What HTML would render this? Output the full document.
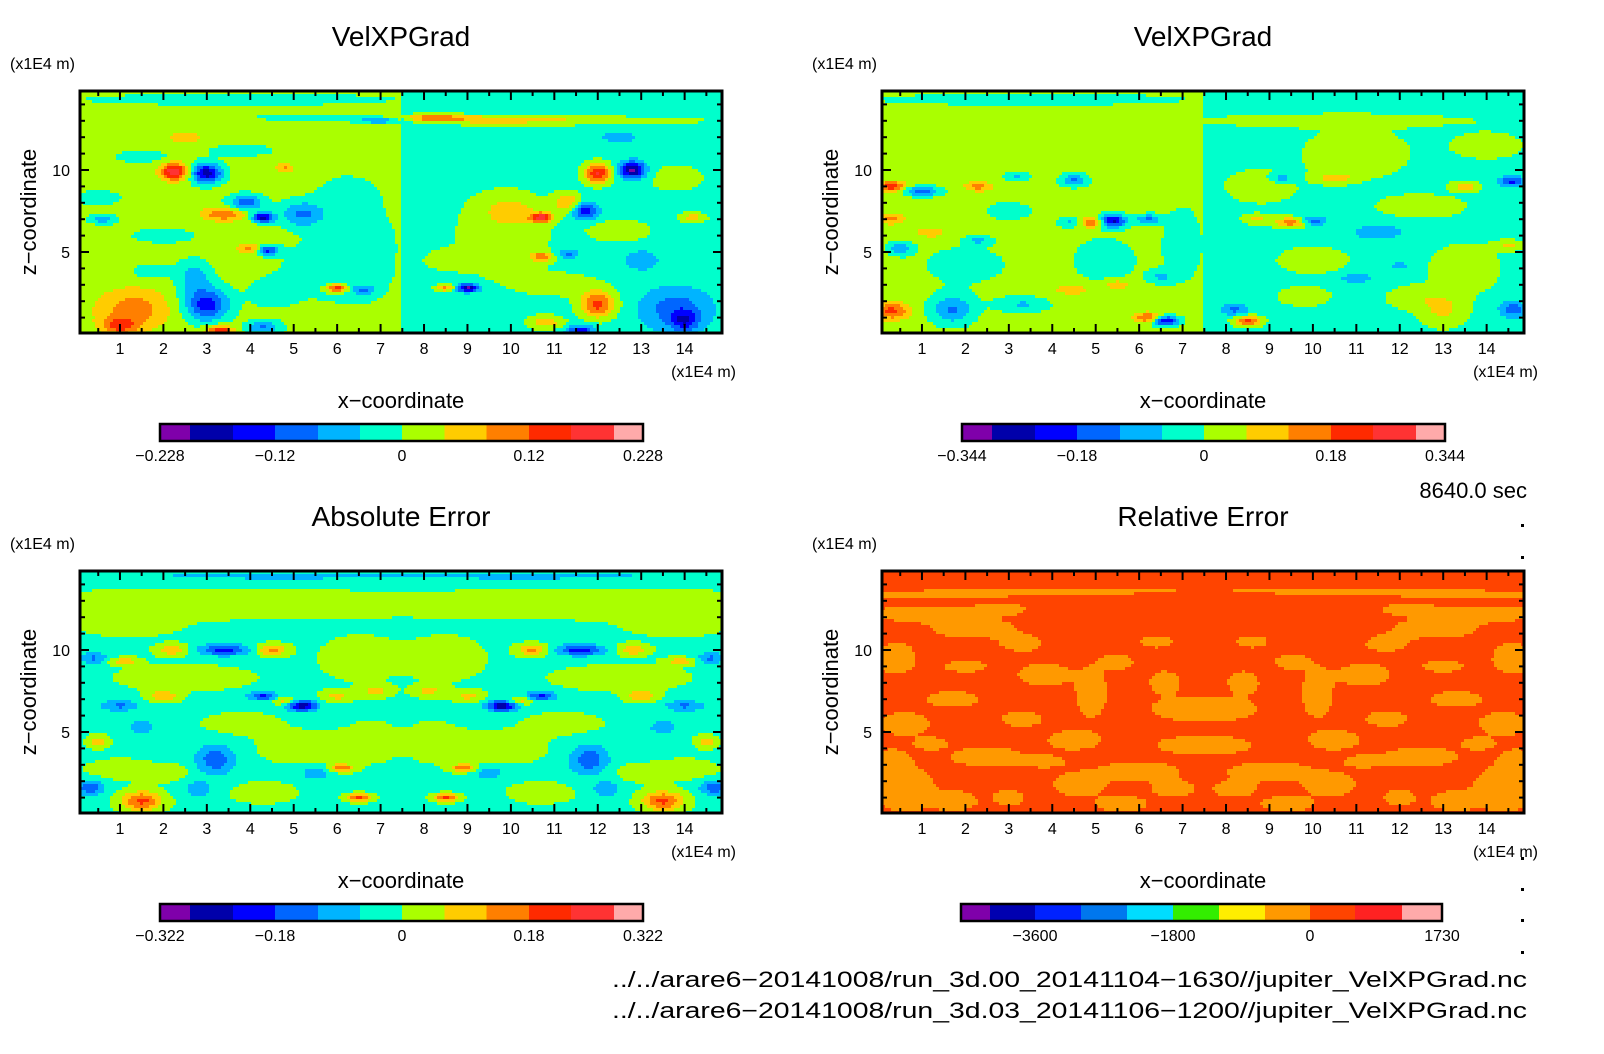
<!DOCTYPE html>
<html><head><meta charset="utf-8"><style>
html,body{margin:0;padding:0;background:#fff;}
svg{display:block;font-family:"Liberation Sans",sans-serif;}
</style></head><body>
<svg id="fig" width="1604" height="1054" viewBox="0 0 1604 1054" xmlns="http://www.w3.org/2000/svg">
<rect width="1604" height="1054" fill="#fff"/>
<text x="1527" y="498" font-size="22" text-anchor="end">8640.0 sec</text>
<text x="1527" y="987" font-size="22" text-anchor="end" textLength="915" lengthAdjust="spacingAndGlyphs">../../arare6−20141008/run_3d.00_20141104−1630//jupiter_VelXPGrad.nc</text>
<text x="1527" y="1018" font-size="22" text-anchor="end" textLength="915" lengthAdjust="spacingAndGlyphs">../../arare6−20141008/run_3d.03_20141106−1200//jupiter_VelXPGrad.nc</text>
<g fill="#000">
<rect x="1521" y="524" width="3" height="3"/><rect x="1521" y="556" width="3" height="3"/>
<rect x="1521" y="857" width="3" height="3"/><rect x="1521" y="888" width="3" height="3"/>
<rect x="1521" y="919" width="3" height="3"/><rect x="1521" y="951" width="3" height="3"/>
</g>
</svg>
<script>
// ---- data ----
const xTicks = [1,2,3,4,5,6,7,8,9,10,11,12,13,14];
const zTicks = [5,10];
const cbColors12 = ["#7f00aa","#0000aa","#0000ff","#0066ff","#00b4ff","#00ffcc","#aaff00","#ffcc00","#ff7f00","#ff2a00","#ff3333","#ffaaaa"];
const cbColors11 = ["#7f00aa","#0000b0","#0022ff","#0077ee","#00ddff","#33ee00","#ffee00","#ff9900","#ff4400","#ff2222","#ffaaaa"];
const cbLabels1 = ["−0.228","−0.12","0","0.12","0.228"];
const cbLabels2 = ["−0.344","−0.18","0","0.18","0.344"];
const cbLabels3 = ["−0.322","−0.18","0","0.18","0.322"];
const cbLabels4 = ["−3600","−1800","0","1730"];
const titles = ["VelXPGrad","VelXPGrad","Absolute Error","Relative Error"];
// blobs: [x, z, amplitude(level units), sx, sz]
const blobs1 = [
[2.25,9.9,4.6,0.3,0.5],[3.0,9.8,-5,0.35,0.6],[4.3,7.1,-5,0.25,0.3],[3.9,8.0,-3,0.4,0.5],[5.2,7.3,-2.5,0.5,0.8],
[3.4,7.3,2.5,0.5,0.4],[3.0,1.8,-4,0.5,1.0],[2.7,3.5,-1.8,0.4,1.0],[1.3,1.5,2.2,0.8,1.2],[1.0,0.5,2.5,0.4,0.5],
[3.3,0.2,3.8,0.3,0.3],[4.3,0.4,-2.5,0.4,0.4],[4.4,5.1,-3.8,0.25,0.3],[4.0,5.2,2,0.3,0.3],[6.0,2.8,3.8,0.25,0.25],
[6.6,2.7,-2,0.3,0.3],[0.6,7.0,-2,0.3,0.3],[4.8,10.1,1.8,0.2,0.3],[6.5,5.0,-0.9,1.0,3.5],[2.5,12,1.2,0.4,0.4],
[7,13,-2.5,0.6,0.2],[5.5,13.2,-1,1.5,0.25],[8.2,13.2,2.5,0.6,0.2],[9.5,13.1,1.5,1.8,0.25],[3.75,14.3,-0.9,4,0.4],
[11,13.0,0.9,4,0.3],[12.0,9.8,4.6,0.3,0.6],[12.8,10.0,-5,0.3,0.5],[10.7,7.1,4.6,0.25,0.3],[11.3,8.0,2.5,0.3,0.6],
[11.7,7.5,-3.5,0.3,0.5],[10,7.5,1.5,0.6,0.8],[10.7,4.7,2.8,0.25,0.3],[11.3,4.9,-2,0.25,0.3],[9.0,2.8,-5,0.25,0.25],
[8.5,2.8,2.5,0.25,0.2],[12.0,1.8,3.8,0.4,0.8],[11.6,0.2,-3.5,0.3,0.3],[10.8,0.7,2,0.4,0.4],[13.8,1.5,-2.2,0.8,1.3],
[14.0,0.8,-2.5,0.3,0.6],[13,4.5,-1.5,0.4,0.6],[9.8,6,0.9,1.2,3],[14.2,7.1,1.8,0.3,0.3],[12.5,12.0,-1.5,0.4,0.3],
[5.5,4,-0.9,0.8,1.5],[4.5,2.5,-0.9,0.6,1],[2,6,-0.9,0.8,0.5],[6.2,8.5,-0.9,0.6,1],[1.5,10.8,-0.9,0.7,0.4],
[0.5,8.3,-0.9,0.6,0.5],[1.7,3.8,-0.9,0.5,0.5],[3.8,11.2,-0.9,0.8,0.4],[12.5,6.3,0.9,0.8,0.8],[13.8,9.5,0.9,0.7,0.9],
[8.5,4.5,0.9,0.6,0.6],[11.2,3.0,0.9,0.9,0.7]];
const blobs2 = [
[0.3,9.0,3.5,0.3,0.3],[1.0,8.7,-3,0.4,0.3],[2.3,9.0,2,0.3,0.3],[4.5,9.4,-2.5,0.3,0.4],[3.2,9.6,-1.5,0.3,0.3],
[2.3,5.7,-1.5,0.3,0.3],[1.2,6.2,1.5,0.3,0.3],[0.3,7.0,2,0.3,0.3],[0.5,5.2,-2,0.3,0.4],[5.4,6.9,-4.5,0.3,0.4],
[4.9,6.8,3,0.25,0.3],[6.2,7.0,-2.5,0.3,0.3],[4.4,6.8,-1.5,0.3,0.3],[1.7,1.5,-2.5,0.5,0.9],[0.3,1.4,3,0.4,0.5],
[3.3,1.8,-1.5,0.6,0.5],[6.6,0.8,-4.5,0.3,0.3],[6.2,1.0,3,0.3,0.3],[4.5,2.7,1,0.6,0.4],[6.5,3.5,-1.5,0.3,0.4],
[5.5,3.0,1.5,0.3,0.3],[9.5,6.8,3,0.4,0.3],[10.0,6.9,-2.5,0.3,0.3],[8.7,7.0,1.5,0.3,0.3],[10.5,9.5,2,0.4,0.3],
[9.3,9.5,-1.5,0.3,0.3],[13.5,9.0,2,0.3,0.3],[14.6,9.3,-3,0.3,0.3],[11.5,6.2,-1.5,0.6,0.5],[8.5,0.8,3.5,0.3,0.3],
[8.2,1.5,-2,0.3,0.4],[13.0,1.5,1.5,0.5,1.0],[14.6,1.5,-2.5,0.3,0.5],[11.0,3.4,-1.5,0.4,0.3],[12.0,4.2,-1,0.3,0.3],
[14.5,5.4,1.5,0.3,0.3],[11,11,0.9,1.2,1.5],[10.5,13,0.9,3,0.4],[13.5,4,0.9,0.8,1.5],[9.8,2.3,0.9,0.6,0.6],
[2,4.2,-0.9,1,1.2],[5.2,4.5,-0.9,0.8,1.5],[3.5,14.3,-0.9,4,0.4],[7.0,5.5,-0.9,0.5,2.5],[3.0,7.5,-0.9,0.6,0.6],
[8.8,9.0,0.9,0.8,1.0],[12.5,7.8,0.9,1.0,0.7],[10,4.5,0.9,0.8,0.8],[14,11.5,0.9,0.8,0.8],[12.3,2.2,0.9,0.6,0.7]];
const blobs3Half = [
[0.4,9.5,-2,0.3,0.3],[1.1,9.3,2,0.3,0.2],[2.2,10.0,2,0.3,0.3],[3.2,10.0,-2,0.4,0.3],[3.6,10.0,-2,0.4,0.3],
[4.5,10.0,2.5,0.3,0.3],[4.3,7.2,-3,0.3,0.25],[5.2,6.6,-4.5,0.3,0.3],[4.8,6.9,2,0.25,0.2],[6.0,7.2,1.5,0.3,0.3],
[2.0,7.2,2,0.3,0.3],[1.0,6.6,-2,0.4,0.3],[0.5,4.4,2,0.2,0.3],[1.5,5.3,-1.5,0.3,0.4],[3.2,3.3,-2.5,0.4,0.8],
[1.5,0.8,3.5,0.4,0.5],[0.3,1.6,-2.5,0.3,0.4],[6.1,2.8,3,0.25,0.2],[6.5,1.0,3.5,0.25,0.2],[5.5,2.5,-1.5,0.3,0.4],
[6.9,7.5,1.5,0.3,0.3],[2.8,1.5,-1.5,0.3,0.5],[2.5,8.3,0.9,1.2,0.6],[5.5,4,0.9,1,0.8],[3,12.8,0.9,3.5,0.7],
[1,2.7,0.9,0.6,0.5],[4.3,1.3,0.9,0.6,0.5],[6.5,9.5,0.6,0.8,1.2],[3.8,5.5,0.6,0.8,0.6],[1.2,11.5,0.6,1.0,0.6],
[6.8,4.5,0.6,0.5,1.0],[2.2,2.5,0.6,0.5,0.5],[3.75,14.5,-0.9,4,0.3]];
const blobs4Half = [
[0.6,1.5,-1,0.6,1.2],[1.8,0.8,-1,0.4,0.5],[2.5,3.5,-1,0.7,0.5],[0.6,5.5,-1,0.5,0.6],[1.7,7.0,-1,0.5,0.4],
[0.4,9.5,-1,0.4,0.8],[2.2,11.3,-1,0.8,0.5],[1.0,12.2,-1,1,0.4],[3.8,8.5,-1,0.5,0.6],[3.3,10.4,-1,0.4,0.4],
[4.9,7.4,-1,0.3,1.3],[4.5,4.5,-1,0.5,0.5],[4.6,1.8,-1,0.5,0.6],[6.0,2.6,-1,0.8,0.5],[5.6,0.6,-1,0.5,0.4],
[7.5,6.4,-1,0.8,0.5],[6.6,8.0,-1,0.3,0.6],[7.0,4.2,-1,0.5,0.4],[3.3,5.8,-1,0.4,0.4],[1.5,13.4,-1,1.5,0.2],
[5.0,13.6,-1,1.5,0.15],[3.0,1.0,-1,0.3,0.4],[6.4,10.5,-1,0.3,0.3],[0.3,3.2,-1,0.3,0.6],[2.0,9.0,-1,0.4,0.3],
[2.8,12.5,-1,0.5,0.3],[5.5,9.3,-1,0.3,0.4],[3.8,3.2,-1,0.4,0.3],[6.8,1.5,-1,0.4,0.4],[1.2,4.3,-1,0.3,0.3]];

const NS="http://www.w3.org/2000/svg";
const svg=document.getElementById('fig');
function mk(tag,attrs,parent){const e=document.createElementNS(NS,tag);for(const k in attrs)e.setAttribute(k,attrs[k]);(parent||svg).appendChild(e);return e;}
const mirror=b=>b.concat(b.map(q=>[15-q[0],q[1],q[2],q[3],q[4]]));
const PW=642, PH=242;
const XMIN=0.08, XMAX=14.86, ZMIN=0.0, ZPX=16.4;

const plots=[
 {ox:80,oy:91,blobs:blobs1,bL:0.4,bR:-0.4,sc:1,colors:cbColors12,labels:cbLabels1,kind:0},
 {ox:882,oy:91,blobs:blobs2,bL:0.4,bR:-0.3,sc:1,colors:cbColors12,labels:cbLabels2,kind:0},
 {ox:80,oy:571,blobs:mirror(blobs3Half),bL:-0.2,bR:-0.2,sc:1.15,colors:cbColors12,labels:cbLabels3,kind:0},
 {ox:882,oy:571,blobs:mirror(blobs4Half),bL:0.4,bR:0.4,sc:1.22,colors:cbColors11,labels:cbLabels4,kind:1}
];

plots.forEach((p,pi)=>{
  const xs=v=>p.ox+(v-XMIN)/(XMAX-XMIN)*PW;
  const zs=v=>p.oy+PH+1-(v-ZMIN)*ZPX;
  const xinv=px=>XMIN+(px-p.ox)/PW*(XMAX-XMIN);
  const zinv=py=>ZMIN+(p.oy+PH+1-py)/ZPX;
  const g=mk('g',{});
  
  
  const field=mk('g',{},g);
  
  
  const cs=3;
  for(let py=p.oy;py<p.oy+PH;py+=cs){
    let runStart=p.ox, runCol=null;
    const zc=zinv(py+cs/2);
    for(let px=p.ox;px<=p.ox+PW;px+=cs){
      let col=null;
      if(px<p.ox+PW){
        const xc=xinv(px+cs/2);
        let v=xc<7.5?p.bL:p.bR;
        for(const b of p.blobs){const dx=(xc-b[0])/(b[3]*p.sc),dz=(zc-b[1])/(b[4]*p.sc);const d=dx*dx+dz*dz;if(d<9)v+=b[2]*Math.exp(-d);}
        if(p.kind===0){let i=Math.floor(v)+6;i=Math.max(0,Math.min(11,i));col=p.colors[i];}
        else col=v<0?"#ff9900":"#ff4400";
      }
      if(col!==runCol){
        if(runCol!==null){
          const r=mk('rect',{x:runStart,y:py,width:px-runStart,height:Math.min(cs,p.oy+PH-py),fill:runCol},field);
          
          
        }
        runStart=px;runCol=col;
      }
    }
  }
  const tk=mk('g',{stroke:'#000','stroke-width':2},g);
  
  
  for(let v=0.5;v<=14.5;v+=0.5){
    const x=xs(v), L=Number.isInteger(v)?9:5;
    mk('line',{x1:x,y1:p.oy+PH,x2:x,y2:p.oy+PH-L},tk);
    mk('line',{x1:x,y1:p.oy,x2:x,y2:p.oy+L},tk);
  }
  for(let v=1;v<=14;v++){
    const y=zs(v), L=(v%5===0)?9:5;
    mk('line',{x1:p.ox,y1:y,x2:p.ox+L,y2:y},tk);
    mk('line',{x1:p.ox+PW,y1:y,x2:p.ox+PW-L,y2:y},tk);
  }
  const fr=mk('rect',{x:p.ox,y:p.oy,width:PW,height:PH,fill:'none',stroke:'#000','stroke-width':3},g);
  
  
  xTicks.forEach(v=>{
    const t=mk('text',{x:xs(v),y:p.oy+263,'font-size':16,'text-anchor':'middle'},g);t.textContent=v;
    
    
  });
  zTicks.forEach(v=>{
    const t=mk('text',{x:p.ox-10,y:zs(v)+6,'font-size':16,'text-anchor':'end'},g);t.textContent=v;
    
    
  });
  const cx=p.ox+PW/2;
  let t=mk('text',{x:cx,y:p.oy-45,'font-size':28,'text-anchor':'middle'},g);t.textContent=titles[pi];
  
  
  t=mk('text',{x:p.ox-70,y:p.oy-22,'font-size':16},g);t.textContent='(x1E4 m)';
  
  
  t=mk('text',{x:p.ox+PW+14,y:p.oy+286,'font-size':16,'text-anchor':'end'},g);t.textContent='(x1E4 m)';
  
  
  t=mk('text',{x:cx,y:p.oy+317,'font-size':22,'text-anchor':'middle'},g);t.textContent='x−coordinate';
  
  
  t=mk('text',{x:0,y:0,'font-size':22,'text-anchor':'middle',transform:`translate(${p.ox-44},${p.oy+PH/2}) rotate(-90)`},g);t.textContent='z−coordinate';
  
  
  const cb=mk('g',{},g);
  
  
  const cy=p.oy+333, ch=17;
  let edges, labX;
  if(p.kind===0){
    edges=[160,190,233,275,318,360,402,444.5,486.5,529,571,614,643].map(e=>e+(p.ox-80));
    labX=[edges[0],edges[3],edges[6],edges[9],edges[12]];
  } else {
    edges=[961,990,1035,1081,1127,1173,1219,1265,1310,1355,1402,1442].map(e=>e+(p.ox-882));
    labX=[edges[2],edges[5],edges[8],edges[11]];
  }
  for(let i=0;i<p.colors.length;i++){
    const r=mk('rect',{x:edges[i],y:cy,width:edges[i+1]-edges[i],height:ch,fill:p.colors[i]},cb);
    
    
  }
  mk('rect',{x:edges[0],y:cy,width:edges[edges.length-1]-edges[0],height:ch,fill:'none',stroke:'#000','stroke-width':2.5},cb);
  p.labels.forEach((s,i)=>{
    const l=mk('text',{x:labX[i],y:cy+37,'font-size':16,'text-anchor':'middle'},cb);l.textContent=s;
    
    
  });
});
</script>
</body></html>
